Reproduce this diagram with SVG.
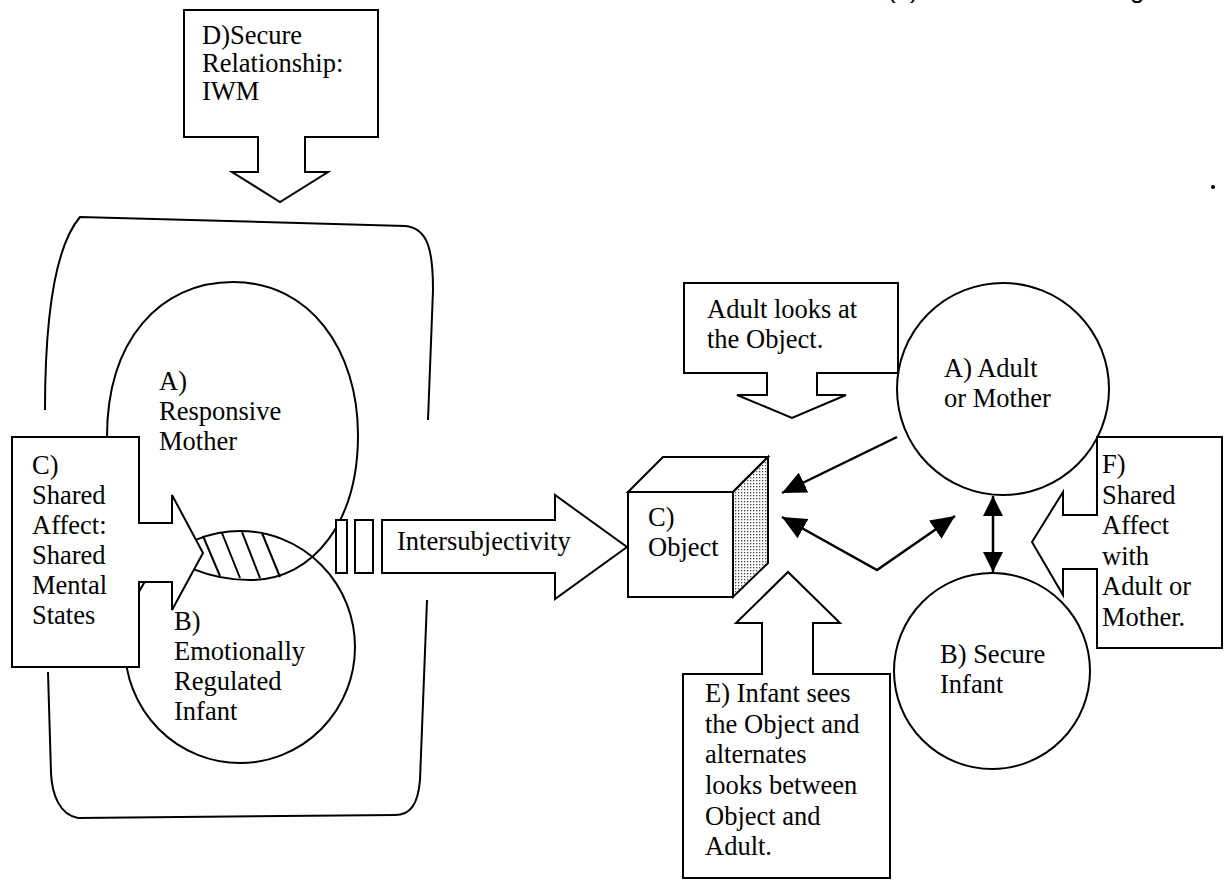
<svg xmlns="http://www.w3.org/2000/svg" width="1230" height="880" viewBox="0 0 1230 880" font-family="'Liberation Serif', 'DejaVu Serif', serif">
<style>
  .ln{fill:none;stroke:#000;stroke-width:2;stroke-linejoin:miter}
  .box{fill:#fff;stroke:#000;stroke-width:2;stroke-linejoin:miter}
  text{font-family:'Liberation Serif', 'DejaVu Serif', serif;font-size:26.5px;fill:#000}
  .title{font-family:'Liberation Sans', Arial, sans-serif;font-size:26px}
  .con{fill:none;stroke:#000;stroke-width:2.5}
</style>
<defs>
  <pattern id="dots" width="3" height="3" patternUnits="userSpaceOnUse">
    <rect width="3" height="3" fill="#fff"/>
    <rect width="1.3" height="1.3" fill="#444"/>
  </pattern>
  <marker id="ah" viewBox="0 0 24 22" refX="24" refY="11" markerWidth="24" markerHeight="22" markerUnits="userSpaceOnUse" orient="auto-start-reverse">
    <path d="M0,0 L24,11 L0,22 Z" fill="#000"/>
  </marker>
  <marker id="ah2" viewBox="0 0 20 20" refX="20" refY="10" markerWidth="20" markerHeight="20" markerUnits="userSpaceOnUse" orient="auto-start-reverse">
    <path d="M0,0 L20,10 L0,20 Z" fill="#000"/>
  </marker>
</defs>
<rect width="1230" height="880" fill="#fff"/>

<g id="page-marks">
  <text class="title" x="887" y="-2">(1)</text>
  <text class="title" x="1130" y="-2">g</text>
  <circle cx="1213" cy="187" r="2" fill="#000"/>
</g>

<g id="container">
  <path class="ln" d="M45,410 C45,330 52,250 80,217 L405,226 C428,228 433,250 433,290 L428,420"/>
  <path class="ln" d="M427,600 L420,780 C418,805 410,815 395,815 L78,818 C60,815 52,795 51,773 L48,672"/>
</g>

<g id="mother">
  <path class="ln" d="M233,282 C310,282 358,350 358,435 C358,520 315,580 250,580 C170,580 107,520 107,437 C107,340 160,282 233,282 Z"/>
  <text x="159" y="390">A)</text>
  <text x="159" y="420">Responsive</text>
  <text x="159" y="450">Mother</text>
</g>

<g id="infant">
  <ellipse class="ln" cx="240" cy="647" rx="115" ry="116"/>
  <g class="ln">
    <line x1="203" y1="536" x2="220" y2="576"/>
    <line x1="222" y1="533" x2="240" y2="578"/>
    <line x1="242" y1="532" x2="260" y2="578"/>
    <line x1="262" y1="533" x2="280" y2="577"/>
  </g>
  <text x="174" y="630">B)</text>
  <text x="174" y="660">Emotionally</text>
  <text x="174" y="690">Regulated</text>
  <text x="174" y="720">Infant</text>
</g>

<g id="callout-c">
  <path class="box" d="M12,437 L139,437 L139,523 L172,523 L172,495 L203,553 L172,610 L172,582 L139,582 L139,667 L12,667 Z"/>
  <text x="32" y="474">C)</text>
  <text x="32" y="504">Shared</text>
  <text x="32" y="534">Affect:</text>
  <text x="32" y="564">Shared</text>
  <text x="32" y="594">Mental</text>
  <text x="32" y="624">States</text>
</g>

<g id="callout-d">
  <path class="box" d="M184,10 L378,10 L378,137 L305,137 L305,172 L328,172 L280,202 L232,172 L258,172 L258,137 L184,137 Z"/>
  <text x="202" y="44">D)Secure</text>
  <text x="202" y="72">Relationship:</text>
  <text x="202" y="100">IWM</text>
</g>

<g id="intersubjectivity">
  <rect class="box" x="336" y="520" width="11" height="53"/>
  <rect class="box" x="355" y="520" width="18" height="53"/>
  <path class="box" d="M382,520 L555,520 L555,495 L627,547 L555,599 L555,573 L382,573 Z"/>
  <text x="397" y="550">Intersubjectivity</text>
</g>

<g id="object">
  <path class="box" d="M628,492 L663,457 L768,457 L733,492 Z"/>
  <path d="M733,492 L768,457 L768,563 L733,597 Z" fill="url(#dots)" stroke="#000" stroke-width="2"/>
  <rect class="box" x="628" y="492" width="105" height="105"/>
  <text x="648" y="526">C)</text>
  <text x="648" y="556">Object</text>
</g>

<g id="callout-adult">
  <path class="box" d="M684,283 L898,283 L898,373 L817,373 L817,395 L846,395 L792,418 L737,395 L767,395 L767,373 L684,373 Z"/>
  <text x="707" y="318">Adult looks at</text>
  <text x="707" y="348">the Object.</text>
</g>

<g id="adult">
  <circle class="ln" cx="1003" cy="389" r="106"/>
  <text x="944" y="377">A) Adult</text>
  <text x="944" y="407">or Mother</text>
</g>

<g id="secure-infant">
  <circle class="ln" cx="992" cy="671" r="98"/>
  <text x="940" y="663">B) Secure</text>
  <text x="940" y="693">Infant</text>
</g>

<g id="callout-f">
  <path class="box" d="M1097,437 L1222,437 L1222,648 L1097,648 L1097,569 L1063,569 L1063,595 L1032,542 L1063,492 L1063,515 L1097,515 Z"/>
  <text x="1102" y="473">F)</text>
  <text x="1102" y="503.5">Shared</text>
  <text x="1102" y="534">Affect</text>
  <text x="1102" y="564.5">with</text>
  <text x="1102" y="595">Adult or</text>
  <text x="1102" y="625.5">Mother.</text>
</g>

<g id="callout-e">
  <path class="box" d="M683,674 L762,674 L762,623 L736,623 L788,572 L840,623 L813,623 L813,674 L890,674 L890,878 L683,878 Z"/>
  <text x="705" y="702">E) Infant sees</text>
  <text x="705" y="733">the Object and</text>
  <text x="705" y="763">alternates</text>
  <text x="705" y="794">looks between</text>
  <text x="705" y="825">Object and</text>
  <text x="705" y="855">Adult.</text>
</g>

<g id="connectors">
  <line class="con" x1="897" y1="437" x2="782" y2="493" marker-end="url(#ah)"/>
  <polyline class="con" points="782,517 877,570 955,516" marker-start="url(#ah)" marker-end="url(#ah)"/>
  <line class="con" x1="993" y1="496" x2="993" y2="572" marker-start="url(#ah2)" marker-end="url(#ah2)"/>
</g>
</svg>
